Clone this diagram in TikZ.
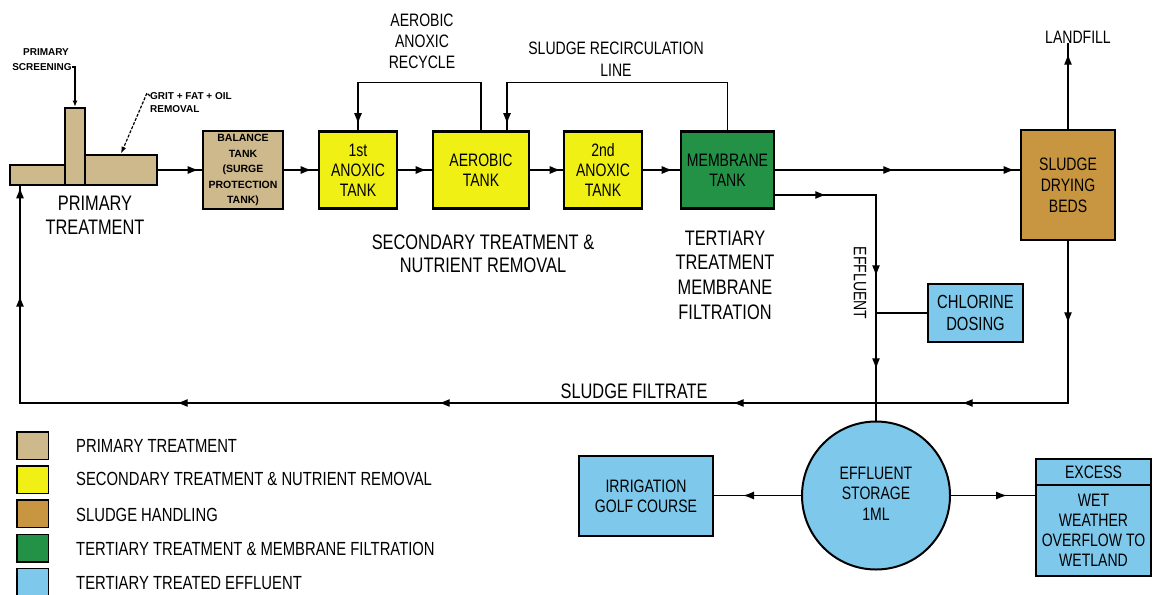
\documentclass[tikz,border=0pt]{standalone}
\usepackage{fontspec}
\setmainfont{Liberation Sans}
\newfontfamily\cadf{Liberation Sans}[FakeStretch=0.78]
\usetikzlibrary{arrows.meta,decorations.markings,calc}
\definecolor{primc}{RGB}{205,185,140}
\definecolor{secc}{RGB}{240,240,20}
\definecolor{sludc}{RGB}{200,150,65}
\definecolor{terc}{RGB}{35,145,70}
\definecolor{effc}{RGB}{125,200,235}
\begin{document}
\begin{tikzpicture}[x=1pt,y=-1pt,
 box/.style={draw=black,line width=2.6pt,inner sep=0pt,align=center,font=\cadf\fontsize{18}{20}\selectfont},
 flow/.style={line width=1.2pt},
 arr/.style={postaction={decorate,decoration={markings,mark=at position #1 with {\arrow{Latex[length=11pt,width=8pt]}}}}},
 lbl/.style={align=center,inner sep=0pt,font=\cadf\fontsize{18}{21}\selectfont},
 big/.style={align=center,inner sep=0pt,font=\cadf\fontsize{21}{24}\selectfont},
 tinytx/.style={inner sep=0pt,font=\bfseries\fontsize{10}{12}\selectfont},
 legsq/.style={draw=black,line width=1.5pt,minimum width=31.5pt,minimum height=27.5pt,inner sep=0pt},
 legtx/.style={anchor=west,inner sep=0pt,font=\cadf\fontsize{19}{21}\selectfont}]
\useasboundingbox (0,0) rectangle (1155,594);

% primary treatment
\node[box,fill=primc,minimum width=55pt,minimum height=20pt] (primL) at (37.5,175) {};
\node[box,fill=primc,minimum width=72pt,minimum height=30pt] (primR) at (121,170) {};
\node[box,fill=primc,minimum width=20pt,minimum height=77pt] (primC) at (75,146.5) {};
\node[tinytx] (scr1) at (46,52) {PRIMARY};
\node[tinytx] (scr2) at (42,67) {SCREENING};
\node[tinytx,anchor=west] (grit1) at (150,96) {GRIT + FAT + OIL};
\node[tinytx,anchor=west] (grit2) at (150,109) {REMOVAL};
\node[big] (primlbl) at (95,215) {PRIMARY\\TREATMENT};

% tanks
\node[box,fill=primc,minimum width=80pt,minimum height=78pt,font=\bfseries\fontsize{10.5}{15.5}\selectfont] (bal) at (243,170) {BALANCE\\TANK\\(SURGE\\PROTECTION\\TANK)};
\node[box,fill=secc,minimum width=78pt,minimum height=77pt] (an1) at (358,170) {1st\\ANOXIC\\TANK};
\node[box,fill=secc,minimum width=96pt,minimum height=77pt] (aer) at (481,170) {AEROBIC\\TANK};
\node[box,fill=secc,minimum width=78pt,minimum height=77pt] (an2) at (603,170) {2nd\\ANOXIC\\TANK};
\node[box,fill=terc,minimum width=93pt,minimum height=77pt] (mem) at (727.5,170) {MEMBRANE\\TANK};
\node[box,fill=sludc,minimum width=94pt,minimum height=110pt,font=\cadf\fontsize{18}{21}\selectfont] (beds) at (1068,185) {SLUDGE\\DRYING\\BEDS};
\node[box,fill=effc,minimum width=95pt,minimum height=58pt,font=\cadf\fontsize{19}{22}\selectfont] (chl) at (975.5,313) {CHLORINE\\DOSING};
\node[box,fill=effc,circle,line width=2pt,minimum size=148pt,font=\cadf\fontsize{18}{20.5}\selectfont] (stor) at (876,495.5) {\\[-12pt]EFFLUENT\\STORAGE\\1ML};
\node[box,fill=effc,minimum width=134pt,minimum height=80pt] (irr) at (646,496) {IRRIGATION\\GOLF COURSE};
\node[box,fill=effc,minimum width=115pt,minimum height=26pt] (excA) at (1093.5,472) {EXCESS};
\node[box,fill=effc,minimum width=115pt,minimum height=91pt] (excB) at (1093.5,530.5) {WET\\WEATHER\\OVERFLOW TO\\WETLAND};

% labels
\node[lbl] (recyc) at (422,41) {AEROBIC\\ANOXIC\\RECYCLE};
\node[lbl,font=\cadf\fontsize{18}{22}\selectfont] (recirc) at (616,59) {SLUDGE RECIRCULATION\\LINE};
\node[lbl] (land) at (1078,37) {LANDFILL};
\node[big,font=\cadf\fontsize{21}{23}\selectfont] (seclbl) at (483,253.5) {SECONDARY TREATMENT \&\\NUTRIENT REMOVAL};
\node[big,font=\cadf\fontsize{21}{24.7}\selectfont] (terlbl) at (725,275) {TERTIARY\\TREATMENT\\MEMBRANE\\FILTRATION};
\node[big] (filtlbl) at (634,391) {SLUDGE FILTRATE};
\node[lbl,rotate=-90] (efflbl) at (860,283) {EFFLUENT};
\coordinate (filt) at (20,403);

% connectors
\draw[flow,-{Latex[length=6pt,width=5pt]}] (scr2.east) -| (primC.north);
\draw[flow,dash pattern=on 3pt off 1.5pt,-{Latex[length=7pt,width=5pt]}] (grit1.west) -- ++(-3,-3) -- (primR.north);
\draw[flow,arr=-3pt] (primR.east) -- (bal.west);
\draw[flow,arr=-6pt] (bal.east) -- (an1.west);
\draw[flow,arr=-5pt] (an1.east) -- (aer.west);
\draw[flow,arr=-2pt] (aer.east) -- (an2.west);
\draw[flow,arr=-7pt] (an2.east) -- (mem.west);
\draw[flow,arr=119pt,arr=-5pt] (mem.east) -- (mem.east -| beds.west);
\draw[flow,arr=-6pt] (aer.north) -- ++(0,-48) -| (an1.north);
\draw[flow,arr=-6pt] (mem.north) -- ++(0,-48) -| ([xshift=26pt]aer.north);
\draw[flow,arr=75pt] (beds.north) -- (beds.north |- land.south);
\draw[flow,arr=51pt,arr=182pt,arr=275pt] ([yshift=-25pt]mem.east) -| (stor.north);
\draw[flow] (chl.west) -- (chl.west -| stor.north);
\draw[flow,arr=82pt,arr=268pt,arr=497pt,arr=791pt,arr=1053pt,arr=1317pt,arr=-1pt] (beds.south) |- (filt) -- (filt |- primL.south);
\draw[flow,arr=58pt] (stor.west) -- (stor.west -| irr.east);
\draw[flow,arr=56pt] (stor.east) -- (stor.east -| excB.west);

% legend
\node[legsq,fill=primc] (lg1) at (32.5,445.5) {};
\node[legsq,fill=secc] (lg2) at (32.5,479.5) {};
\node[legsq,fill=sludc] (lg3) at (32.5,513.5) {};
\node[legsq,fill=terc] (lg4) at (32.5,548) {};
\node[legsq,fill=effc] (lg5) at (32.5,582) {};
\node[legtx] (lt1) at (76,446) {PRIMARY TREATMENT};
\node[legtx] (lt2) at (76,479) {SECONDARY TREATMENT \& NUTRIENT REMOVAL};
\node[legtx] (lt3) at (76,515) {SLUDGE HANDLING};
\node[legtx] (lt4) at (76,549) {TERTIARY TREATMENT \& MEMBRANE FILTRATION};
\node[legtx] (lt5) at (76,583) {TERTIARY TREATED EFFLUENT};
\end{tikzpicture}
\end{document}
